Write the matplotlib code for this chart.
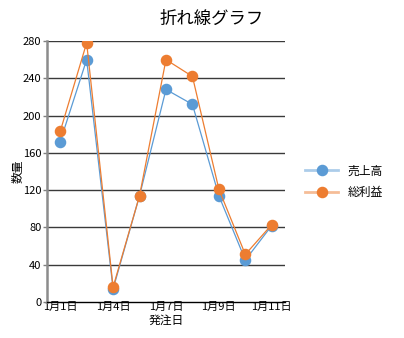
#!/usr/bin/env python3

import matplotlib.pyplot as plt
import numpy as np
from matplotlib.lines import Line2D

plt.rcParams['font.family'] = ['Noto Sans CJK JP', 'DejaVu Sans']

dates = ['1月1日', '1月3日', '1月4日', '1月6日', '1月7日',
         '1月8日', '1月9日', '1月10日', '1月11日']
sales = [172, 260, 14, 114, 228, 212, 114, 45, 82]
profit = [183, 278, 16, 114, 260, 242, 121, 51, 83]
series_names = ['売上高', '総利益']
y_ticks = [0, 40, 80, 120, 160, 200, 240, 280]


def main() -> None:
    fig = plt.figure(figsize=(4.04, 3.38), dpi=100)
    ax = fig.add_axes([0.1163, 0.1065, 0.5891, 0.7722])

    x = np.arange(len(dates))
    for yv in y_ticks[1:]:
        ax.axhline(yv, color='#3a3a3a', lw=1.0, zorder=1)

    colors = ['#5B9BD5', '#ED7D31']
    handles = []
    for i, (vals, c) in enumerate(zip([sales, profit], colors)):
        ax.plot(x, vals, color=c, lw=0.9, marker='o', ms=7.3, zorder=3 + i)
        # legend swatch: faded line with a solid marker on top
        handles.append((Line2D([], [], color=c, lw=2.0, alpha=0.5),
                        Line2D([], [], color=c, lw=0, marker='o', ms=7.3)))

    ax.set_xlim(-0.5, len(dates) - 0.5)
    ax.set_ylim(0, 280)
    ax.set_yticks(y_ticks)
    ax.set_xticks(x[::2])
    ax.set_xticklabels(dates[::2])
    ax.tick_params(axis='x', length=0, pad=0, labelsize=8)
    ax.tick_params(axis='y', length=3, width=1, color='#808080', pad=1,
                   labelsize=8)

    for side in ('top', 'right'):
        ax.spines[side].set_visible(False)
    ax.spines['left'].set_color('#8c8c8c')
    ax.spines['left'].set_linewidth(1.8)
    ax.spines['bottom'].set_color('#000000')
    ax.spines['bottom'].set_linewidth(1.0)

    ax.set_xlabel('発注日', fontsize=8.5, labelpad=1.5)
    ax.set_ylabel('数量', fontsize=8.5, labelpad=-1)
    fig.text(0.525, 0.945, '折れ線グラフ', ha='center', va='center',
             fontsize=12.5)

    ax.legend(handles, series_names, loc='center left',
              bbox_to_anchor=(1.04, 0.46), frameon=False, fontsize=8.5,
              handlelength=2.8, labelspacing=0.75)

    fig.savefig('out.png', dpi=100)


if __name__ == '__main__':
    main()
